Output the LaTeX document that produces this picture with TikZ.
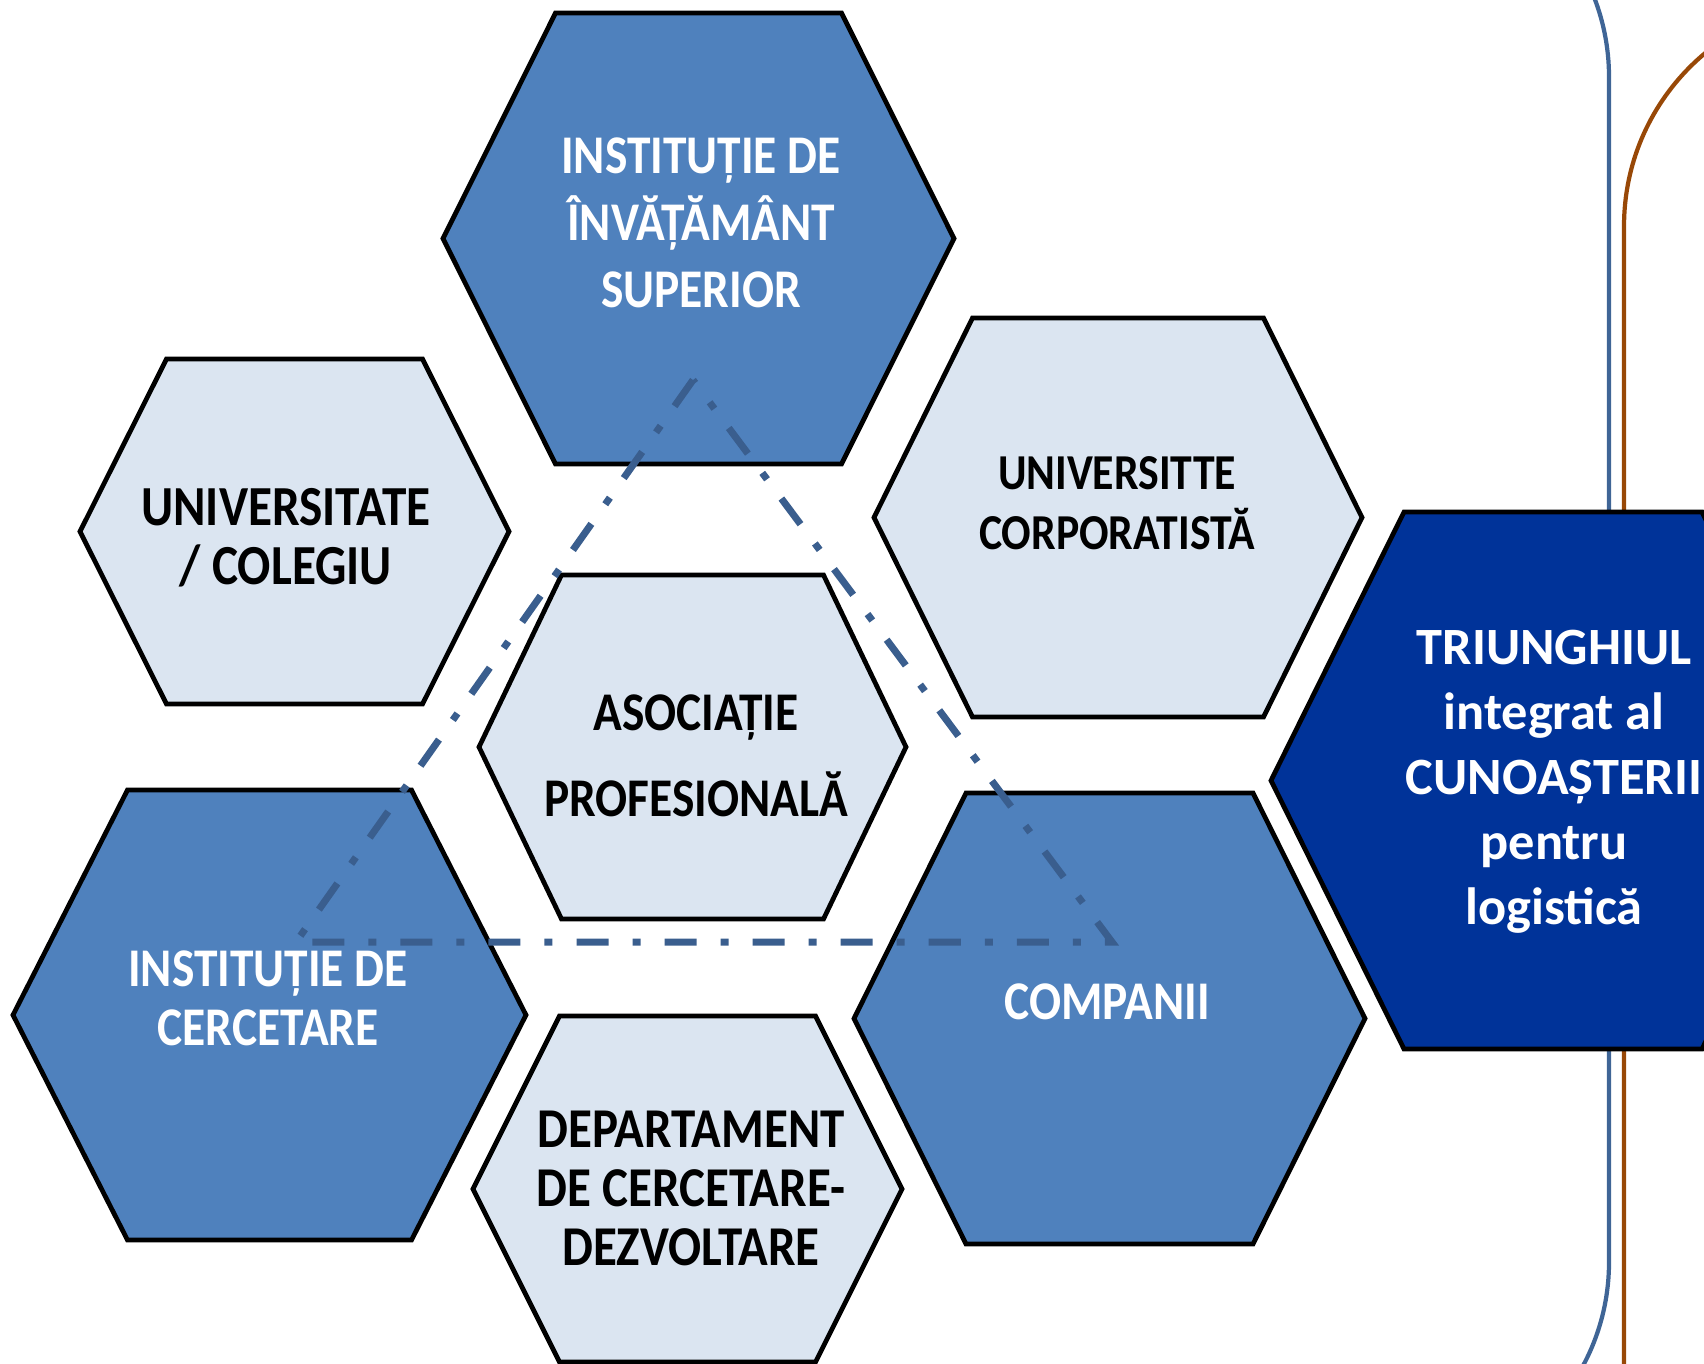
\documentclass[tikz,border=0pt]{standalone}
\usepackage{fontspec}
\setmainfont{Carlito}
\newfontfamily\hexfont{Carlito}[FakeStretch=0.87]
\usepackage{xcolor}
\usepackage{tikz}

\definecolor{hexblue}{HTML}{4F81BD}
\definecolor{hexlight}{HTML}{DBE5F1}
\definecolor{hexdark}{HTML}{003399}
\definecolor{lineblue}{HTML}{3F6596}
\definecolor{lineorange}{HTML}{984807}
\definecolor{triblue}{HTML}{3A5E8E}

\newcommand\hexsize[2]{\hexfont\bfseries\fontsize{#1}{#2}\selectfont}

\tikzset{
    hexedge/.style={draw=black,line width=1.35pt,line join=miter},
    hextext/.style={align=center,inner sep=0pt},
    triline/.style={triblue,line width=2pt,dash pattern=on 0.32cm off 0.24cm on 0.08cm off 0.24cm}
}

\begin{document}
\begin{tikzpicture}[x=0.01cm,y=-0.01cm]
        \useasboundingbox (0,0) rectangle (1704,1363);
        \clip (0,0) rectangle (1704,1363);

        % Brackets on the right:
        % Two long rounded frames, only one side of each is visible
        \draw [lineorange,line width=1.2pt,rounded corners=2.25cm] (1624,1450) -- (1624,1) -- (2000,1);
        \draw [lineblue,line width=1.2pt,rounded corners=2.2cm] (1200,-143) -- (1609,-143) -- (1609,1482) -- (1200,1482);

        % Hexagons:
        % centre x / centre y / half width / half top edge / half height / fill
        \foreach \cx/\cy/\hw/\tw/\hh/\fc in {698.5/238.5/255.5/143/225.5/hexblue,
                294.5/531.5/214.5/128/172.5/hexlight,
                1118/517.5/244/145.5/199.5/hexlight,
                692.5/747/213.5/131/172/hexlight,
                269.5/1015/256.5/142/225/hexblue,
                1109.5/1018.5/255.5/143.5/225.5/hexblue,
                687.5/1189/214.5/128/173/hexlight,
                1553/780.5/282/149/268.5/hexdark}{%
            \filldraw [hexedge,fill=\fc] (\cx-\hw,\cy) -- (\cx-\tw,\cy-\hh) -- (\cx+\tw,\cy-\hh)
                -- (\cx+\hw,\cy) -- (\cx+\tw,\cy+\hh) -- (\cx-\tw,\cy+\hh) -- cycle;
        }

        % Dash-dotted triangle over the hexagons:
        \coordinate (apex) at (693,380);
        \coordinate (leftcorner) at (296,942);
        \coordinate (rightcorner) at (1112,942);
        \draw [triline] (apex) -- (leftcorner) -- (rightcorner) -- cycle;

        % Labels:
        \node [hextext,white,font=\hexsize{15.5}{19}] (ies) at (701,223) {INSTITUȚIE DE\\ÎNVĂȚĂMÂNT\\SUPERIOR};
        \node [hextext,font=\hexsize{16.1}{16.8}] (colegiu) at (286,538) {UNIVERSITATE\\/ COLEGIU};
        \node [hextext,font=\hexsize{14.3}{17}] (corporatist) at (1117,503) {UNIVERSITTE\\CORPORATISTĂ};
        \node [hextext,font=\hexsize{15.5}{24.5}] (asociatie) at (696,756) {ASOCIAȚIE\\PROFESIONALĂ};
        \node [hextext,white,font=\hexsize{15.5}{16.8}] (cercetare) at (268,998) {INSTITUȚIE DE\\CERCETARE};
        \node [hextext,white,font=\hexsize{15.5}{16.8}] (companii) at (1107,1002) {COMPANII};
        \node [hextext,font=\hexsize{16}{16.8}] (cd) at (691,1188) {DEPARTAMENT\\DE CERCETARE-\\DEZVOLTARE};
        \node [hextext,white,font=\bfseries\fontsize{14.9}{18.5}\selectfont] (triunghi) at (1554,782)
            {TRIUNGHIUL\\integrat al\\CUNOAȘTERII\\pentru\\logistică};
\end{tikzpicture}
\end{document}
